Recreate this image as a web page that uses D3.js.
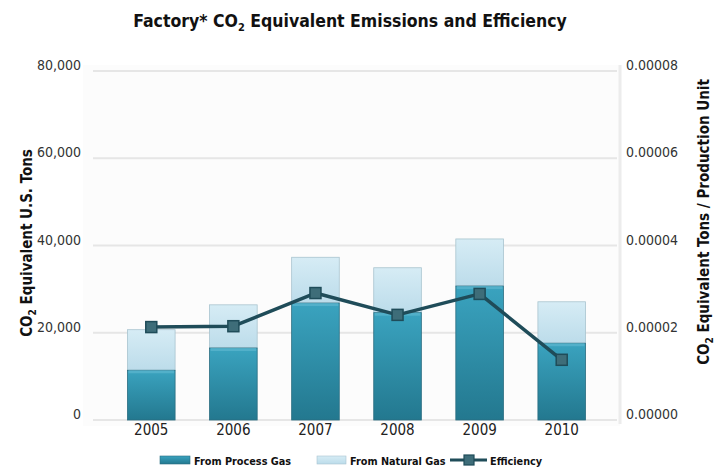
<!DOCTYPE html>
<html><head><meta charset="utf-8">
<script src="https://cdn.jsdelivr.net/npm/d3@7"></script>
<style>
body{margin:0;background:#fff;}
text{font-family:'Liberation Sans Narrow','DejaVu Sans Condensed',sans-serif;}
</style></head>
<body><svg id="c" width="717" height="470"></svg>
<script>
const years = ["2005","2006","2007","2008","2009","2010"];
const processGas = [11400, 16500, 26800, 24600, 30700, 17600];
const naturalGas = [9300, 9900, 10500, 10300, 10800, 9500];
const efficiency = [0.0000213, 0.0000215, 0.0000291, 0.0000241, 0.0000289, 0.0000138];
const leftTicks = [0, 20000, 40000, 60000, 80000];
const rightTicks = [0, 0.00002, 0.00004, 0.00006, 0.00008];

const svg = d3.select("#c");
const m = {l:93, r:620, t:71, b:420};
const FF = "'Liberation Sans Narrow','DejaVu Sans Condensed',sans-serif";

const defs = svg.append("defs");
const g1 = defs.append("linearGradient").attr("id","gp").attr("x1",0).attr("y1",0).attr("x2",0).attr("y2",1);
g1.append("stop").attr("offset","0%").attr("stop-color","#3aa3bf");
g1.append("stop").attr("offset","100%").attr("stop-color","#23788f");
const g2 = defs.append("linearGradient").attr("id","gn").attr("x1",0).attr("y1",0).attr("x2",0).attr("y2",1);
g2.append("stop").attr("offset","0%").attr("stop-color","#d6ecf5");
g2.append("stop").attr("offset","100%").attr("stop-color","#bcdcea");

const x = d3.scaleBand().domain(years).range([m.l, m.r]).padding(0.42);
const y = d3.scaleLinear().domain([0,80000]).range([m.b, m.t]);
const y2 = d3.scaleLinear().domain([0,0.00008]).range([m.b, m.t]);

// plot background
svg.append("rect").attr("x",m.l-10).attr("y",m.t-6).attr("width",m.r-m.l+10).attr("height",m.b-m.t+12).attr("fill","#fcfcfc");
// right frame line
svg.append("line").attr("x1",m.r).attr("x2",m.r).attr("y1",m.t-6).attr("y2",m.b+4).attr("stroke","#ececec").attr("stroke-width",3);

// gridlines
svg.append("g").selectAll("line").data(leftTicks).join("line")
  .attr("x1",m.l).attr("x2",m.r-3).attr("y1",d=>y(d)).attr("y2",d=>y(d))
  .attr("stroke","#e6e6e6").attr("stroke-width",2);

// axes
const la = svg.append("g").attr("transform",`translate(${m.l-12},0)`)
  .call(d3.axisLeft(y).tickValues(leftTicks).tickFormat(d3.format(",")).tickSize(0).tickPadding(0));
la.select(".domain").remove();
la.selectAll("text").attr("font-size",14).attr("fill","#333").attr("dy","-0.1em").style("font-family",FF);
const ra = svg.append("g").attr("transform",`translate(${m.r+6},0)`)
  .call(d3.axisRight(y2).tickValues(rightTicks).tickFormat(d3.format(".5f")).tickSize(0).tickPadding(0));
ra.select(".domain").remove();
ra.selectAll("text").attr("font-size",14).attr("fill","#333").attr("dy","-0.1em").style("font-family",FF);
const xa = svg.append("g").attr("transform",`translate(0,${m.b})`)
  .call(d3.axisBottom(x).tickSize(0).tickPadding(4));
xa.select(".domain").remove();
xa.selectAll("text").attr("font-size",15).attr("fill","#222").style("font-family",FF);

// bars
const bars = svg.append("g");
years.forEach((yr,i)=>{
  const tot = processGas[i]+naturalGas[i];
  bars.append("rect").attr("x",x(yr)).attr("width",x.bandwidth())
    .attr("y",y(tot)).attr("height",y(processGas[i])-y(tot))
    .attr("fill","url(#gn)").attr("stroke","#a9c4cf").attr("stroke-width",0.8);
  bars.append("rect").attr("x",x(yr)).attr("width",x.bandwidth())
    .attr("y",y(processGas[i])).attr("height",y(0)-y(processGas[i]))
    .attr("fill","url(#gp)").attr("stroke","#2a6d80").attr("stroke-width",0.8);
  bars.append("rect").attr("x",x(yr)+1).attr("width",x.bandwidth()-2)
    .attr("y",y(processGas[i])).attr("height",3).attr("fill","#5cb6cf").attr("opacity",0.7);
});

// efficiency line
const cx = d=>x(d)+x.bandwidth()/2;
svg.append("path").datum(efficiency)
  .attr("d", d3.line().x((d,i)=>cx(years[i])).y(d=>y2(d)))
  .attr("fill","none").attr("stroke","#1f4c59").attr("stroke-width",3.5).attr("stroke-linejoin","round");
svg.append("g").selectAll("rect").data(efficiency).join("rect")
  .attr("x",(d,i)=>cx(years[i])-5.5).attr("y",d=>y2(d)-5.5).attr("width",11).attr("height",11)
  .attr("fill","#3e6d79").attr("stroke","#1f4c59").attr("stroke-width",1.5);

// title
const t = svg.append("text").attr("x",350).attr("y",27).attr("text-anchor","middle")
  .attr("font-size",17.5).attr("font-weight","bold").attr("fill","#111");
t.append("tspan").text("Factory* CO");
t.append("tspan").attr("font-size",11).attr("dy",4).text("2");
t.append("tspan").attr("dy",-4).text(" Equivalent Emissions and Efficiency");

// left axis title
const lt = svg.append("text").attr("transform","translate(32,243) rotate(-90)").attr("text-anchor","middle")
  .attr("font-size",15).attr("font-weight","bold").attr("fill","#111");
lt.append("tspan").text("CO");
lt.append("tspan").attr("font-size",10).attr("dy",4).text("2");
lt.append("tspan").attr("dy",-4).text(" Equivalent U.S. Tons");
// right axis title
const rt = svg.append("text").attr("transform","translate(709,222) rotate(-90)").attr("text-anchor","middle")
  .attr("font-size",15).attr("font-weight","bold").attr("fill","#111");
rt.append("tspan").text("CO");
rt.append("tspan").attr("font-size",10).attr("dy",4).text("2");
rt.append("tspan").attr("dy",-4).text(" Equivalent Tons / Production Unit");

// legend
const lg = svg.append("g");
const LS = 10.8;
lg.append("rect").attr("x",160).attr("y",456).attr("width",30).attr("height",8).attr("fill","url(#gp)").attr("stroke","#2a6d80").attr("stroke-width",0.6);
lg.append("text").attr("x",194).attr("y",464.5).attr("font-size",LS).attr("font-weight","bold").attr("fill","#111").text("From Process Gas");
lg.append("rect").attr("x",317).attr("y",456).attr("width",29).attr("height",8).attr("fill","url(#gn)").attr("stroke","#a9c4cf").attr("stroke-width",0.6);
lg.append("text").attr("x",350).attr("y",464.5).attr("font-size",LS).attr("font-weight","bold").attr("fill","#111").text("From Natural Gas");
lg.append("line").attr("x1",450).attr("x2",487).attr("y1",460).attr("y2",460).attr("stroke","#1f4c59").attr("stroke-width",3);
lg.append("rect").attr("x",464).attr("y",455).attr("width",10).attr("height",10).attr("fill","#3e6d79").attr("stroke","#1f4c59").attr("stroke-width",1.2);
lg.append("text").attr("x",490).attr("y",464.5).attr("font-size",LS).attr("font-weight","bold").attr("fill","#111").text("Efficiency");
</script></body></html>
